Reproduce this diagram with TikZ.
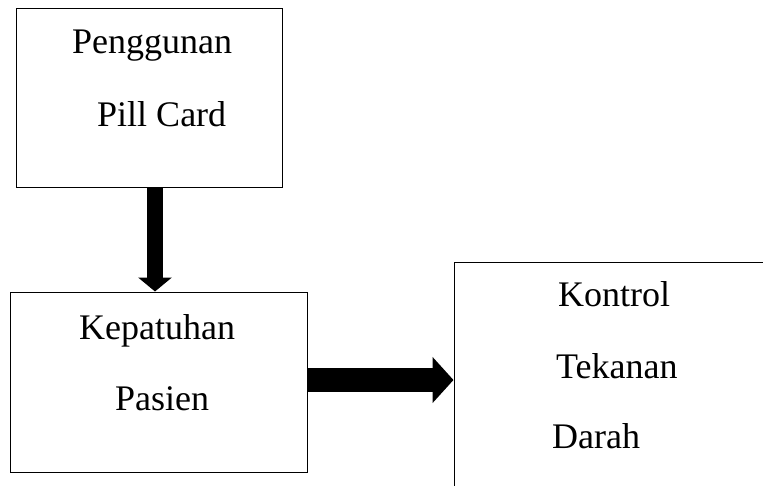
\documentclass[tikz,border=0pt]{standalone}
\usepackage{fontspec}
\setmainfont{Liberation Serif}
\usetikzlibrary{arrows.meta}

\tikzset{
  box/.style = {draw, rectangle, line width = 1pt, inner sep = 0pt},
  lbl/.style = {anchor = base west, inner sep = 0pt, font = \fontsize{36}{43}\selectfont},
  bigarrow/.style = {color = black, line cap = butt}
}

\begin{document}
\begin{tikzpicture}[x = 1pt, y = -1pt]
\useasboundingbox (0, 0) rectangle (763, 485);
\clip (0, 0) rectangle (763, 485);
% boxes
\node[box, minimum width = 266pt, minimum height = 179pt] (pill) at (149, 97.5) {};
\node[box, minimum width = 297pt, minimum height = 180pt] (patuh) at (158.5, 382) {};
\node[box, minimum width = 330pt, minimum height = 236pt] (tensi) at (619, 380) {};
% texts
\node[lbl] (pill1) at (72, 53) {Penggunan};
\node[lbl] (pill2) at (97, 126) {Pill Card};
\node[lbl] (patuh1) at (79, 339) {Kepatuhan};
\node[lbl] (patuh2) at (115, 410) {Pasien};
\node[lbl] (tensi1) at (558, 306) {Kontrol};
\node[lbl] (tensi2) at (556, 378) {Tekanan};
\node[lbl] (tensi3) at (552, 448) {Darah};
% arrows
\draw[bigarrow, line width = 16pt, -{Triangle[width = 33pt, length = 14pt]}] ([xshift = 6pt]pill.south) -- ([xshift = -3.5pt]patuh.north);
\draw[bigarrow, line width = 24pt, -{Triangle[width = 45pt, length = 21pt]}] ([yshift = 2pt]patuh.east) -- (tensi.west);
\end{tikzpicture}
\end{document}
